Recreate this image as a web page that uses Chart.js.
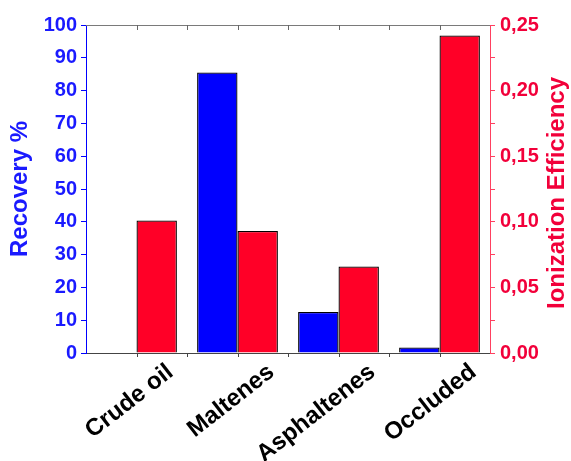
<!DOCTYPE html>
<html>
<head>
<meta charset="utf-8">
<script src="https://cdn.jsdelivr.net/npm/chart.js@4"></script>
<style>
  html, body { margin: 0; padding: 0; background: #ffffff; }
  #c { display: block; }
</style>
</head>
<body>
<canvas id="c" width="571" height="461"></canvas>
<script>
// ---- data ----
const categories = ["Crude oil", "Maltenes", "Asphaltenes", "Occluded"];
const recoveryPercent = [0, 85.5, 12.5, 1.7];
const ionizationEfficiency = [0.101, 0.093, 0.066, 0.242];
const leftAxisTitle = "Recovery %";
const rightAxisTitle = "Ionization Efficiency";
const leftTicksMax = 100;
const rightTicksMax = 0.25;

// ---- style ----
const BLUE = "#0000ff";
const BLUE_TXT = "#1a1aff";
const RED = "#ff0027";
const RED_TXT = "#f2003a";
const RED_AXIS = "#ff4060";
const FONT = "'Liberation Sans', Arial, sans-serif";

const extras = {
  id: "extras",
  afterDraw(chart) {
    const ctx = chart.ctx;
    const area = chart.chartArea;
    const x = chart.scales.x;
    const y1 = chart.scales.y1;
    ctx.save();
    // top frame line
    ctx.strokeStyle = "#7a7a7a";
    ctx.lineWidth = 1;
    ctx.beginPath();
    ctx.moveTo(area.left, area.top + 0.5);
    ctx.lineTo(area.right, area.top + 0.5);
    ctx.stroke();
    // category ticks (centers and boundaries), bottom outward, top inward
    const half = (x.getPixelForValue(1) - x.getPixelForValue(0)) / 2;
    const pos = [];
    categories.forEach((_, i) => {
      const c = x.getPixelForValue(i);
      pos.push(c - half, c);
    });
    pos.push(x.getPixelForValue(categories.length - 1) + half);
    pos.forEach((p, k) => {
      const px = Math.round(p) + 0.5;
      if (k === 0 || k === pos.length - 1) return;
      ctx.strokeStyle = "#444";
      ctx.beginPath();
      ctx.moveTo(px, area.bottom);
      ctx.lineTo(px, area.bottom + 4);
      ctx.stroke();
      ctx.strokeStyle = "#666";
      ctx.beginPath();
      ctx.moveTo(px, area.top);
      ctx.lineTo(px, area.top + 5);
      ctx.stroke();
    });
    // right axis title, reading bottom-to-top
    ctx.fillStyle = RED_TXT;
    ctx.font = "bold 24px " + FONT;
    ctx.textAlign = "center";
    ctx.textBaseline = "middle";
    ctx.translate(557, (y1.top + y1.bottom) / 2 + 4);
    ctx.rotate(-Math.PI / 2);
    ctx.fillText(rightAxisTitle, 0, 0);
    ctx.restore();
  }
};

new Chart(document.getElementById("c"), {
  type: "bar",
  data: {
    labels: categories,
    datasets: [
      {
        label: leftAxisTitle,
        data: recoveryPercent,
        yAxisID: "y",
        backgroundColor: BLUE,
        borderColor: "#000",
        borderWidth: 1.3,
        borderSkipped: "bottom",
        categoryPercentage: 0.8,
        barPercentage: 1.0
      },
      {
        label: rightAxisTitle,
        data: ionizationEfficiency,
        yAxisID: "y1",
        backgroundColor: RED,
        borderColor: "#000",
        borderWidth: 1.3,
        borderSkipped: "bottom",
        categoryPercentage: 0.8,
        barPercentage: 1.0
      }
    ]
  },
  options: {
    responsive: false,
    animation: false,
    devicePixelRatio: 1,
    layout: { padding: { top: 25, left: 0, right: 0, bottom: 0 } },
    plugins: { legend: { display: false }, tooltip: { enabled: false } },
    scales: {
      x: {
        offset: true,
        grid: { display: false, drawTicks: false },
        border: { display: true, color: "#444", width: 1 },
        ticks: {
          autoSkip: false,
          minRotation: 38,
          maxRotation: 38,
          labelOffset: 34,
          padding: 5,
          color: "#000",
          font: { family: FONT, size: 24, weight: "bold" }
        },
        afterFit(s) { s.height = 108; }
      },
      y: {
        position: "left",
        min: 0,
        max: leftTicksMax,
        grid: { drawOnChartArea: false, drawTicks: true, tickLength: 5, color: BLUE },
        border: { display: true, color: BLUE, width: 1 },
        ticks: {
          stepSize: 5,
          padding: 4,
          color: BLUE_TXT,
          font: { family: FONT, size: 20, weight: "bold" },
          callback: (v) => (Math.round(v) % 10 === 0 ? String(v) : "")
        },
        title: {
          display: true,
          text: leftAxisTitle,
          color: BLUE_TXT,
          padding: { top: 6, bottom: 0 },
          font: { family: FONT, size: 24, weight: "bold" }
        },
        afterFit(s) { s.width = 86; }
      },
      y1: {
        position: "right",
        min: 0,
        max: rightTicksMax,
        grid: { drawOnChartArea: false, drawTicks: true, tickLength: 5, color: RED_AXIS },
        border: { display: true, color: RED_AXIS, width: 1 },
        ticks: {
          stepSize: 0.025,
          padding: 5,
          color: RED_TXT,
          font: { family: FONT, size: 20, weight: "bold" },
          callback: (v) => (Math.round(v * 1000) % 50 === 0 ? v.toFixed(2).replace(".", ",") : "")
        },
        afterFit(s) { s.width = 81; }
      }
    }
  },
  plugins: [extras]
});
</script>
</body>
</html>
